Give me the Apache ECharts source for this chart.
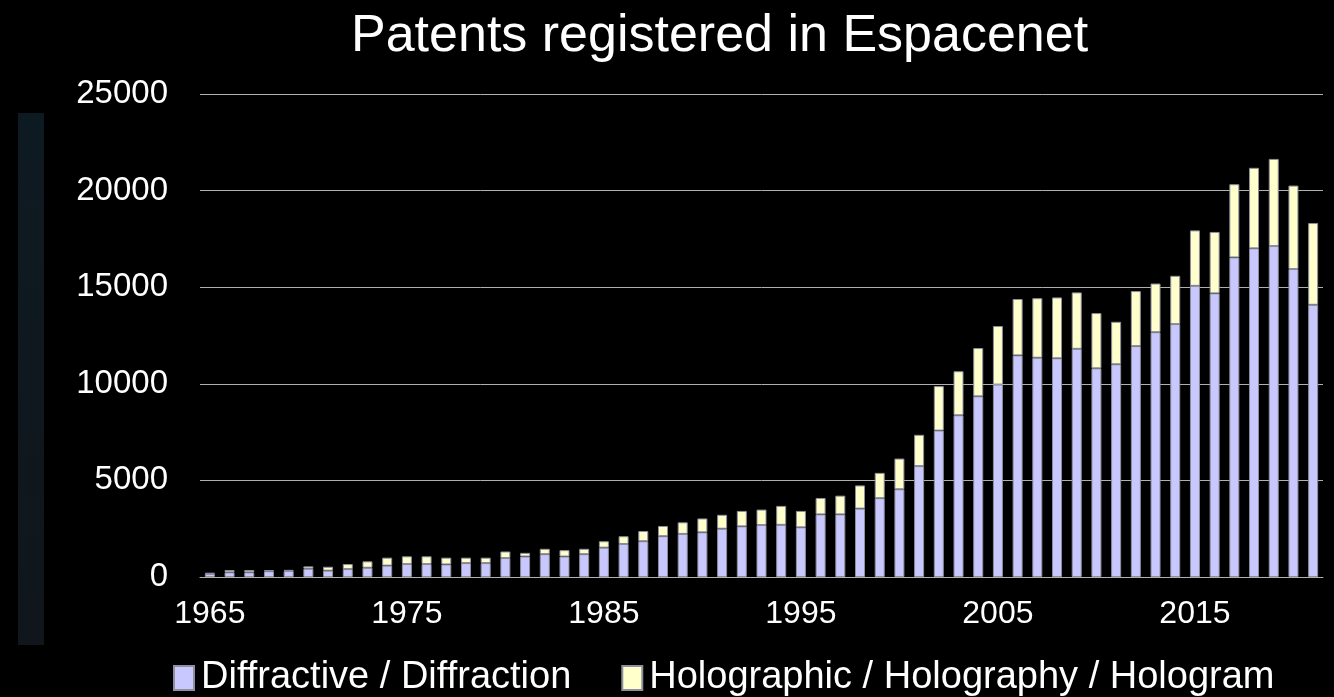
<!DOCTYPE html>
<html>
<head>
<meta charset="utf-8">
<script src="https://cdn.jsdelivr.net/npm/echarts@6/dist/echarts.min.js"></script>
<style>
html,body{margin:0;padding:0;background:#000;}
#chart{width:1334px;height:697px;}
</style>
</head>
<body>
<div id="chart"></div>
<script>
const years = [];
for (let y = 1965; y <= 2021; y++) years.push(String(y));

const diffractive = [
  170, 240, 240, 300, 320, 430, 330, 410, 480, 590,
  670, 670, 650, 720, 720, 980, 1060, 1180, 1060, 1180,
  1520, 1710, 1850, 2110, 2230, 2310, 2500, 2620, 2690, 2700,
  2570, 3240, 3240, 3540, 4080, 4540, 5740, 7580, 8370, 9350,
  9960, 11470, 11350, 11320, 11810, 10800, 11010, 11950, 12670, 13090,
  15070, 14680, 16540, 17010, 17130, 15940, 14090
];
const holographic = [
  40, 120, 120, 60, 40, 120, 200, 260, 330, 410,
  400, 400, 350, 280, 280, 340, 190, 280, 330, 280,
  330, 400, 530, 530, 600, 720, 720, 800, 800, 980,
  850, 850, 970, 1200, 1310, 1590, 1620, 2300, 2280, 2500,
  3030, 2920, 3080, 3150, 2920, 2860, 2200, 2850, 2520, 2500,
  2870, 3180, 3790, 4170, 4510, 4320, 4230
];
const yTicks = [0, 5000, 10000, 15000, 20000, 25000];

const FONT = '"Liberation Sans", Arial, sans-serif';
const chart = echarts.init(document.getElementById('chart'));
chart.setOption({
  backgroundColor: '#000000',
  animation: false,
  title: {
    text: 'Patents registered in Espacenet',
    left: 346, top: 6,
    textStyle: { color: '#ffffff', fontSize: 52, fontWeight: 'normal', fontFamily: FONT }
  },
  graphic: [{
    type: 'rect',
    shape: { x: 18, y: 113, width: 26, height: 532 },
    style: {
      fill: new echarts.graphic.LinearGradient(0, 0, 0, 1, [
        { offset: 0, color: '#0e1a22' },
        { offset: 1, color: '#10161b' }
      ])
    }
  }],
  legend: {
    left: 168, top: 654,
    itemWidth: 20, itemHeight: 24, itemGap: 50,
    icon: 'rect',
    textStyle: { color: '#ffffff', fontSize: 38, fontFamily: FONT, padding: [0, 0, 0, 2] },
    data: ['Diffractive / Diffraction', 'Holographic / Holography / Hologram']
  },
  grid: { left: 200, right: 11, top: 94, bottom: 120, containLabel: false },
  xAxis: {
    type: 'category',
    data: years,
    axisLine: { lineStyle: { color: '#b0b0b0', width: 1 } },
    axisTick: { show: false },
    axisLabel: {
      color: '#ffffff', fontSize: 32, fontFamily: FONT, margin: 21,
      interval: 9
    }
  },
  yAxis: {
    type: 'value',
    min: yTicks[0], max: yTicks[yTicks.length - 1], interval: 5000,
    axisLine: { show: false },
    axisTick: { show: false },
    splitLine: { lineStyle: { color: '#b0b0b0', width: 1 } },
    axisLabel: { color: '#ffffff', fontSize: 33, fontFamily: FONT, margin: 32,
      formatter: function (v) { return String(v); } }
  },
  series: [
    {
      name: 'Diffractive / Diffraction',
      type: 'bar', stack: 'total', barWidth: 10,
      itemStyle: { color: '#c8c8ff', borderColor: '#8e8e9e', borderWidth: 1 },
      data: diffractive
    },
    {
      name: 'Holographic / Holography / Hologram',
      type: 'bar', stack: 'total', barWidth: 10,
      itemStyle: { color: '#ffffcc', borderColor: '#8e8e9e', borderWidth: 1 },
      data: holographic
    }
  ]
});
</script>
</body>
</html>
